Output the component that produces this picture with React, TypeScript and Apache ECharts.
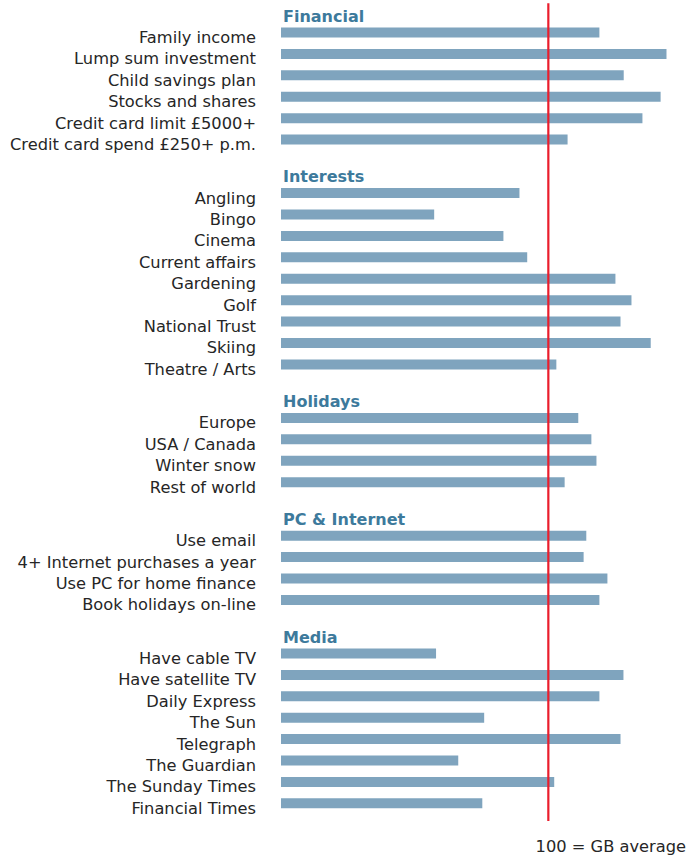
import React, { useEffect, useRef } from "react";
import * as echarts from "echarts";

const groupNames = ["Financial", "Interests", "Holidays", "PC & Internet", "Media"];

const financialLabels = [
  "Family income",
  "Lump sum investment",
  "Child savings plan",
  "Stocks and shares",
  "Credit card limit £5000+",
  "Credit card spend £250+ p.m.",
];
const financialValues = [119.1, 144.2, 128.2, 142, 135.2, 107.2];

const interestsLabels = [
  "Angling",
  "Bingo",
  "Cinema",
  "Current affairs",
  "Gardening",
  "Golf",
  "National Trust",
  "Skiing",
  "Theatre / Arts",
];
const interestsValues = [89.2, 57.3, 83.2, 92.1, 125.1, 131.1, 127, 138.3, 103];

const holidaysLabels = ["Europe", "USA / Canada", "Winter snow", "Rest of world"];
const holidaysValues = [111.2, 116.1, 118, 106.1];

const pcLabels = [
  "Use email",
  "4+ Internet purchases a year",
  "Use PC for home finance",
  "Book holidays on-line",
];
const pcValues = [114.2, 113.2, 122.1, 119.1];

const mediaLabels = [
  "Have cable TV",
  "Have satellite TV",
  "Daily Express",
  "The Sun",
  "Telegraph",
  "The Guardian",
  "The Sunday Times",
  "Financial Times",
];
const mediaValues = [58, 128.1, 119.1, 76, 127, 66.3, 102.2, 75.3];

const averageLine = 100;
const footnote = "100 = GB average";

const groupLabels = [financialLabels, interestsLabels, holidaysLabels, pcLabels, mediaLabels];
const groupValues = [financialValues, interestsValues, holidaysValues, pcValues, mediaValues];

export default function App() {
  const ref = useRef<HTMLDivElement>(null);

  useEffect(() => {
    if (!ref.current) return;
    const chart = echarts.init(ref.current, null, { renderer: "svg" });

    const keys: string[] = [];
    const axisText: string[] = [];
    const barData: any[] = [];
    const headerData: any[] = [];
    const push = (label: string, bar: any, header: any) => {
      keys.push("slot" + keys.length);
      axisText.push(label);
      barData.push(bar);
      headerData.push(header);
    };
    groupNames.forEach((g, gi) => {
      if (gi > 0) {
        push("", "-", "-");
        push("", "-", "-");
      }
      push("", "-", { value: 0, groupName: g });
      push("", "-", "-");
      groupLabels[gi].forEach((lab, ri) => {
        if (ri > 0) push("", "-", "-");
        push(lab, groupValues[gi][ri], "-");
      });
    });

    const font = "DejaVu Sans";
    chart.setOption({
      animation: false,
      grid: [
        { left: 281, right: 5, top: 5.75, bottom: 48.3 },
        { left: 281, right: 5, top: 3.3, bottom: 36 },
      ],
      xAxis: [
        { type: "value", gridIndex: 0, min: 0, max: 150, show: false },
        { type: "value", gridIndex: 1, min: 0, max: 150, show: false },
      ],
      yAxis: [
        {
          type: "category",
          gridIndex: 0,
          data: keys,
          inverse: true,
          axisLine: { show: false },
          axisTick: { show: false },
          splitLine: { show: false },
          axisLabel: {
            interval: 0,
            margin: 25,
            color: "#262626",
            fontSize: 16.25,
            fontFamily: font,
            verticalAlign: "top",
            lineHeight: 10,
            formatter: (_v: string, i: number) => axisText[i],
          },
        },
        { type: "value", gridIndex: 1, min: 0, max: 1, show: false },
      ],
      series: [
        {
          type: "bar",
          xAxisIndex: 0,
          yAxisIndex: 0,
          data: barData,
          barWidth: 10,
          barGap: "-100%",
          itemStyle: { color: "#7fa4be" },
          z: 2,
        },
        {
          type: "bar",
          xAxisIndex: 0,
          yAxisIndex: 0,
          data: headerData,
          barWidth: 10,
          barGap: "-100%",
          itemStyle: { color: "transparent" },
          label: {
            show: true,
            position: "right",
            distance: 2,
            offset: [0, 5],
            formatter: (p: any) => (p.data && p.data.groupName) || "",
            color: "#3d7a9c",
            fontWeight: "bold",
            fontSize: 16,
            fontFamily: font,
          },
          z: 3,
        },
        {
          type: "line",
          xAxisIndex: 1,
          yAxisIndex: 1,
          data: [
            [averageLine, 0],
            [averageLine, 1],
          ],
          symbol: "none",
          lineStyle: { color: "#ea1d2c", width: 2.2 },
          z: 5,
        },
      ],
      graphic: [
        {
          type: "text",
          right: 1,
          top: 838,
          style: {
            text: footnote,
            fill: "#262626",
            fontSize: 16.25,
            fontFamily: font,
          },
        },
      ],
    });

    return () => chart.dispose();
  }, []);

  return (
    <div
      ref={ref}
      style={{ position: "fixed", left: 0, top: 0, width: 687, height: 857, background: "#fff" }}
    />
  );
}
